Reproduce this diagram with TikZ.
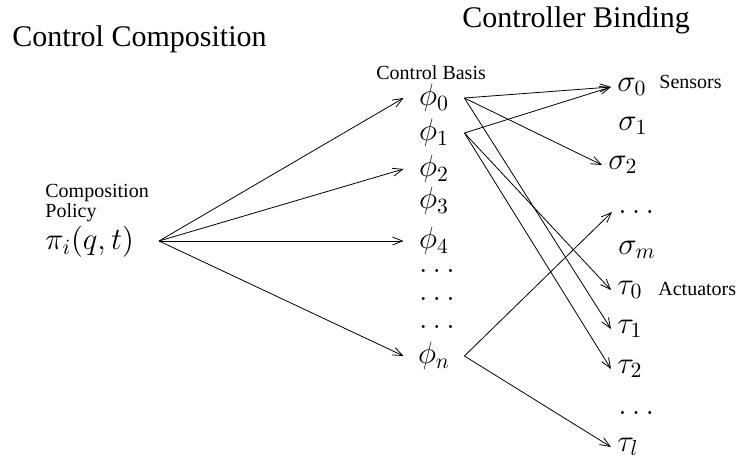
\RequirePackage{fix-cm}
\documentclass[tikz,border=0pt]{standalone}
\usepackage{fontspec}
\setmainfont{Liberation Serif}
\usetikzlibrary{arrows.meta}

\begin{document}
\begin{tikzpicture}[x=0.5pt,y=-0.5pt,>={Straight Barb[length=5pt,width=4pt]}]
        \useasboundingbox (0,0) rectangle (738,464);

        \begin{scope}[every node/.style={anchor=base west,inner sep=0pt,font=\fontsize{10}{10}\selectfont}]
          \node[font=\fontsize{15}{18}\selectfont] (comp) at (12,47) {Control Composition};
          \node[font=\fontsize{15}{18}\selectfont] (bind) at (462,28) {Controller Binding};
          \node (basis) at (376,80) {Control Basis};
          \node[anchor=north west,align=left] (policy) at (45,184) {Composition\\Policy};
          \node (sens) at (659,89) {Sensors};
          \node (act)  at (658,296) {Actuators};
          \node[font=\fontsize{15.5}{18}\selectfont] (pi) at (45,250) {$\pi_i(q,t)$};
        \end{scope}

        \coordinate (pol) at (159,241);

        \begin{scope}[every node/.style={inner sep=0pt,minimum width=30pt,font=\fontsize{15.5}{18}\selectfont}]
          \node (p0) at (434,98)  {$\phi_0$};
          \node (p1) at (434,133) {$\phi_1$};
          \node (p2) at (434,169) {$\phi_2$};
          \node (p3) at (434,201) {$\phi_3$};
          \node (p4) at (434,241) {$\phi_4$};
          \node (d1) at (437,271) {$\ldots$};
          \node (d2) at (437,299) {$\ldots$};
          \node (d3) at (437,327) {$\ldots$};
          \node (pn) at (434,356) {$\phi_n$};
        \end{scope}

        \begin{scope}[every node/.style={anchor=west,inner ysep=0pt,inner xsep=3pt,font=\fontsize{15.5}{18}\selectfont}]
          \node (s0) at (611,87)  {$\sigma_0$};
          \node (s1) at (612,126) {$\sigma_1$};
          \node (s2) at (602,165) {$\sigma_2$};
          \node (sd) at (612,212) {$\ldots$};
          \node (sm) at (612,250) {$\sigma_m$};
          \node (t0) at (611,290) {$\tau_0$};
          \node (t1) at (611,329) {$\tau_1$};
          \node (t2) at (611,369) {$\tau_2$};
          \node (td) at (612,413) {$\ldots$};
          \node (tl) at (611,447) {$\tau_l$};
        \end{scope}

        \begin{scope}[every edge/.style={draw,->,thin}]
          \path (pol) edge (p0.west);
          \path (pol) edge (p2.west);
          \path (pol) edge (p4.west);
          \path (pol) edge (pn.west);
          \path (p0.east) edge (s0.west);
          \path (p0.east) edge (s2.west);
          \path (p0.east) edge (t1.west);
          \path (p1.east) edge (s0.west);
          \path (p1.east) edge (t0.west);
          \path (p1.east) edge (t2.west);
          \path (pn.east) edge (sd.west);
          \path (pn.east) edge (tl.west);
        \end{scope}

      \end{tikzpicture}
\end{document}
